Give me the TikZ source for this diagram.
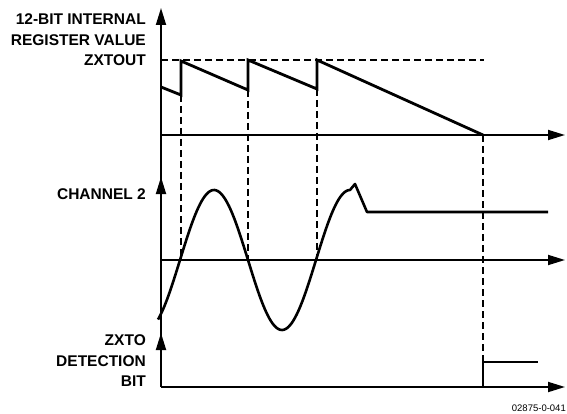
\documentclass[tikz,border=0pt]{standalone}
\usepackage{fontspec}
\setmainfont{Liberation Sans}
\usetikzlibrary{arrows.meta}
\begin{document}
\begin{tikzpicture}[x=1pt,y=-1pt,
  axis/.style={line width=1.8pt,-{Triangle[length=17pt,width=10pt]}},
  sig/.style={line width=2.8pt,line join=miter},
  guide/.style={line width=1.7pt,dash pattern=on 7pt off 4pt},
  lbl/.style={font=\bfseries\fontsize{15.5}{20.5}\selectfont,align=right,anchor=east,inner sep=0pt},
  note/.style={font=\fontsize{9.5}{11}\selectfont,inner sep=0pt}]
\useasboundingbox (0,0) rectangle (567,414);
% key coordinates
\coordinate (o) at (161,387);
\coordinate (ytop) at (161,8);
\coordinate (ymid0) at (161,200);
\coordinate (ymid) at (161,177);
\coordinate (ybot0) at (161,355);
\coordinate (ybot) at (161,333);
\coordinate (a0) at (161,135);
\coordinate (a1) at (565,135);
\coordinate (b0) at (161,260);
\coordinate (b1) at (565,260);
\coordinate (c1) at (565,387);
\coordinate (d0) at (161,60);
\coordinate (d1) at (484,60);
% sawtooth points
\coordinate (s0) at (161,87);
\coordinate (s1) at (181,95);
\coordinate (s2) at (181,61);
\coordinate (s3) at (248,90);
\coordinate (s4) at (248,60);
\coordinate (s5) at (317,89);
\coordinate (s6) at (317,60);
\coordinate (s7) at (483,135);
% channel 2 end
\coordinate (p0) at (355,184);
\coordinate (p1) at (367,212);
\coordinate (p2) at (548,212);
% zero crossings
\coordinate (z1) at (181,260);
\coordinate (z2) at (248,260);
\coordinate (z3) at (317,260);
% detection bit
\coordinate (e0) at (483,387);
\coordinate (e1) at (483,362);
\coordinate (e2) at (538,362);

% axes
\draw[axis] (o) -- (ytop);
\draw[axis] (ymid0) -- (ymid);
\draw[axis] (ybot0) -- (ybot);
\draw[axis] (a0) -- (a1);
\draw[axis] (b0) -- (b1);
\draw[axis] (o) -- (c1);

% guides
\draw[guide] (d0) -- (d1);
\draw[guide] (s1) -- (z1);
\draw[guide] (s3) -- (z2);
\draw[guide] (s5) -- (z3);
\draw[guide] (s7) -- (e1);

% sawtooth
\draw[sig] (s0) -- (s1) -- (s2) -- (s3) -- (s4) -- (s5) -- (s6) -- (s7);

% channel 2
\draw[line width=2.6pt,line join=round]
  plot[domain=158:350,samples=120,smooth] (\x,{260-70*sin((\x-180)/68*180)})
  -- (p0) -- (p1) -- (p2);

% detection bit
\draw[sig] (e0) -- (e1) -- (e2);

% labels
\node[lbl] (l1) at (146,40) {12-BIT INTERNAL\\REGISTER VALUE\\ZXTOUT};
\node[lbl] (l2) at (146,194) {CHANNEL 2};
\node[lbl] (l3) at (146,361) {ZXTO\\DETECTION\\BIT};
\node[note,anchor=east] (l4) at (566,408) {02875-0-041};
\end{tikzpicture}
\end{document}
